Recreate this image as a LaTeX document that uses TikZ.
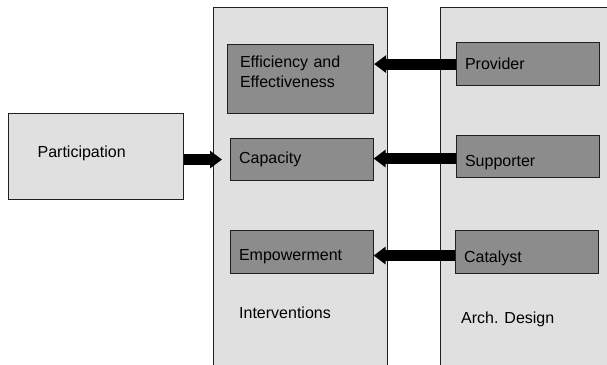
\documentclass[tikz,border=0pt]{standalone}
\usepackage{fontspec}
\setmainfont{Liberation Sans}
\usetikzlibrary{arrows.meta}
\definecolor{lightbox}{gray}{0.88}
\definecolor{darkbox}{gray}{0.55}
\definecolor{edge}{gray}{0.12}

\begin{document}
\begin{tikzpicture}[x=1pt, y=-1pt, font=\fontsize{16}{20}\selectfont,
    panel/.style={draw=edge, line width=1.3pt, fill=lightbox, inner sep=0pt, anchor=north west},
    item/.style={draw=edge, line width=1.1pt, fill=darkbox, anchor=north west, inner xsep=9pt, inner ysep=0pt, text width=125pt, align=left, text depth=4pt},
    caption/.style={anchor=base west, inner sep=0pt},
    push/.style={line width=11pt, -{Triangle[width=17pt,length=12pt]}}]
  \useasboundingbox (0,0) rectangle (607,364);
  \clip (0,0) rectangle (607,364);
  % columns
  \node[panel, minimum width=174pt, minimum height=370pt] (interv) at (213,7) {};
  \node[panel, minimum width=180pt, minimum height=370pt] (arch) at (440,7) {};
  \node[caption] (intlabel) at (239,318) {Interventions};
  \node[caption] (archlabel) at (461,323) {Arch. Design};
  % left box
  \node[panel, inner xsep=29pt, text width=117pt, align=left, minimum height=86pt, text depth=9pt] (part) at (8,113) {Participation};
  % interventions
  \node[item, text width=121pt, inner xsep=12.5pt, minimum height=69pt, text height=4pt, text depth=27.6pt] (eff) at (227,44) {Efficiency and\\Effectiveness};
  \node[item, minimum height=42pt, text height=12.5pt] (cap) at (229.5,138) {Capacity};
  \node[item, minimum height=43pt, text height=21pt] (emp) at (229.5,229.5) {Empowerment};
  % roles
  \node[item, minimum height=43pt, text height=15pt] (prov) at (455.5,42) {Provider};
  \node[item, minimum height=42pt, text height=23pt] (sup) at (455.5,135) {Supporter};
  \node[item, minimum height=43pt, text height=25pt] (cat) at (454.5,229.5) {Catalyst};
  % arrows
  \draw[push] (prov.west) -- (prov.west -| eff.east);
  \draw[push] ([yshift=-2pt]sup.west) -- ([yshift=-2pt]sup.west -| cap.east);
  \draw[push] ([yshift=-4pt]cat.west) -- ([yshift=-4pt]cat.west -| emp.east);
  \draw[push] (part.east |- cap.west) -- ([xshift=-7.5pt]cap.west);
\end{tikzpicture}
\end{document}
